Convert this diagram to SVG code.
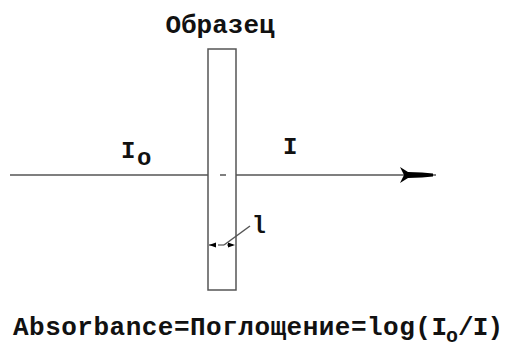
<svg xmlns="http://www.w3.org/2000/svg" width="508" height="348" viewBox="0 0 508 348">
<style>
.t{font-family:"Liberation Mono","DejaVu Sans Mono",monospace;font-weight:bold;fill:#111}
.ln{stroke:#555;stroke-width:1.5;fill:none}
</style>
<rect width="508" height="348" fill="#fff"/>
<g id="sample">
<rect class="ln" x="208" y="49" width="28" height="241"/>
<text class="t" x="220" y="33" font-size="26" text-anchor="middle">Образец</text>
</g>
<g id="connectors">
<line class="ln" x1="10" y1="175" x2="208" y2="175"/>
<line class="ln" x1="220" y1="175" x2="226" y2="175"/>
<line class="ln" x1="236" y1="175" x2="436" y2="175"/>
<polygon points="400,167 408,172 422,172.5 433,173.5 433,176.5 422,177.5 408,178 400,183 404,175" fill="#000"/>
<line x1="209" y1="245" x2="235" y2="245" stroke="#333" stroke-width="1.2" stroke-dasharray="6,3"/>
<polygon points="209,245 216,242.5 216,247.5" fill="#000"/>
<polygon points="235,245 228,242.5 228,247.5" fill="#000"/>
<line class="ln" x1="224" y1="245" x2="250" y2="226" stroke-width="1"/>
</g>
<g id="labels">
<text class="t" x="121" y="158" font-size="24">I</text>
<text class="t" x="137" y="165" font-size="24">o</text>
<text class="t" x="283" y="154" font-size="24">I</text>
<text class="t" x="252" y="233" font-size="23">l</text>
</g>
<g id="formula">
<text class="t" x="13" y="335" font-size="26" textLength="434" lengthAdjust="spacing">Absorbance=Поглощение=log(I</text>
<text class="t" x="446" y="342" font-size="20">o</text>
<text class="t" x="458" y="335" font-size="26" textLength="45" lengthAdjust="spacing">/I)</text>
</g>
</svg>
